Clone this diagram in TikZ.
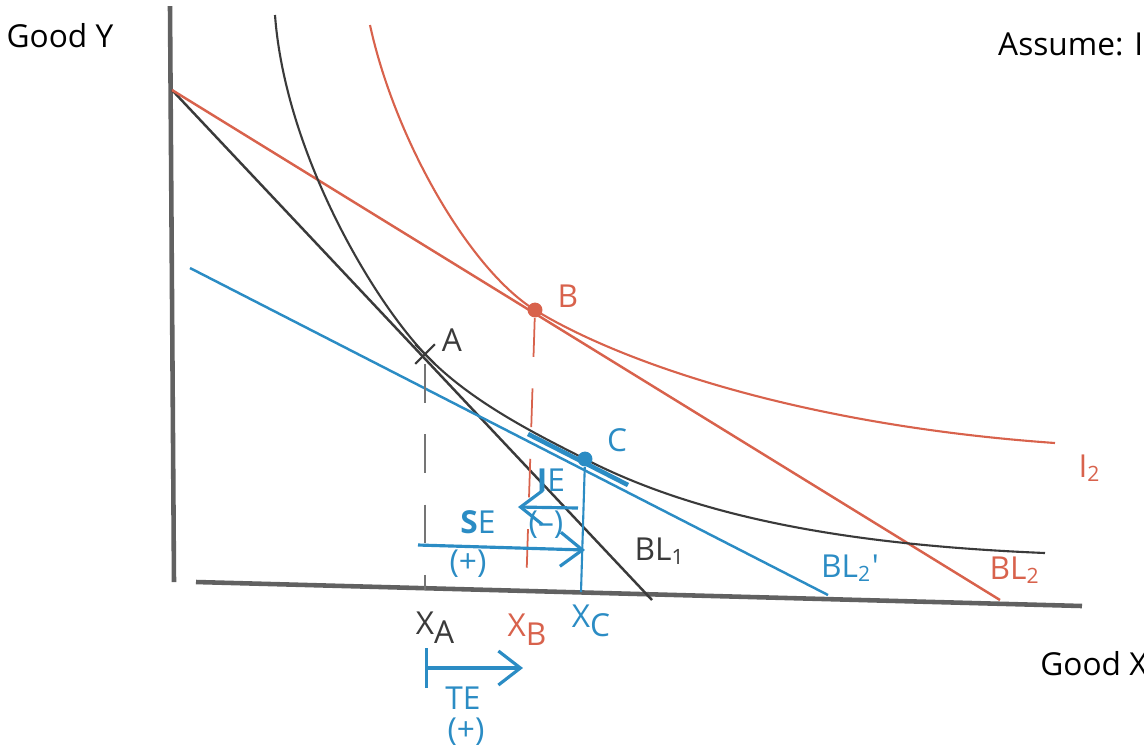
\documentclass[tikz,border=0pt]{standalone}
\usepackage{fontspec}
\setmainfont{Open Sans}
\usetikzlibrary{arrows.meta,shapes.misc}
\definecolor{penred}{HTML}{D8624C}
\definecolor{penblue}{HTML}{2B8CC4}
\definecolor{pengray}{HTML}{3A3A3A}
\newcommand\lowidx[1]{\raisebox{-.55ex}{#1}}

\begin{document}
\begin{tikzpicture}[
  x=0.01cm,y=-0.01cm,
  >={Straight Barb[length=2.2mm,width=3.4mm]},
  axis/.style={pengray!80,line width=1.3pt},
  budget/.style={line width=.7pt},
  indiff/.style={line width=.6pt},
  drop/.style={line width=.5pt,dash pattern=on 11pt off 9pt},
  effect/.style={penblue,line width=.9pt},
  dot/.style={circle,fill,inner sep=1.5pt},
  every node/.style={font=\small,inner sep=1pt}
]
  \useasboundingbox (0,0) rectangle (1144,747);

  % axes
  \coordinate (ytop) at (170,6);
  \coordinate (orig) at (174,582);
  \coordinate (xleft) at (196,582);
  \coordinate (xright) at (1082,606);
  \draw[axis] (ytop) -- (orig);
  \draw[axis] (xleft) -- (xright);
  \node (goody) at (60,36) {Good Y};
  \node (goodx) at (1094,664) {Good X};
  \node[anchor=west] (assume) at (994,44) {Assume: I};

  % budget lines
  \coordinate (yint) at (172,90);
  \coordinate (bl1end) at (652,600);
  \coordinate (bl2end) at (1000,600);
  \coordinate (blpstart) at (190,268);
  \coordinate (blpend) at (828,595);
  \draw[budget,pengray] (yint) -- (bl1end);
  \draw[budget,penred] (yint) -- (bl2end);
  \draw[budget,penblue] (blpstart) -- (blpend);

  % bundles
  \coordinate (A) at (425,354);
  \coordinate (B) at (535,310);
  \coordinate (C) at (585,459);

  % indifference curves
  \coordinate (i1top) at (275,15);
  \coordinate (i1end) at (1045,553);
  \coordinate (i2top) at (370,25);
  \coordinate (i2end) at (1055,443);
  \draw[indiff,pengray] (i1top) .. controls (285,150) and (370,296) .. (A)
    .. controls (470,402) and (540,436) .. (C)
    .. controls (700,518) and (850,545) .. (i1end);
  \draw[indiff,penred] (i2top) .. controls (395,140) and (470,270) .. (B)
    .. controls (620,362) and (800,425) .. (i2end);
  \draw[penblue,line width=1.3pt] (528,434) -- (628,485);

  \node[cross out,draw=pengray,line width=.6pt,minimum size=5pt,inner sep=0pt] (markA) at (A) {};
  \node[dot,penred] (dotB) at (B) {};
  \node[dot,penblue] (dotC) at (C) {};
  \node[pengray] (labA) at (452,340) {A};
  \node[penred] (labB) at (568,296) {B};
  \node[penblue] (labC) at (617,440) {C};

  % labels of lines
  \node[pengray] (labbl1) at (660,551) {BL\textsubscript{1}};
  \node[penblue] (labblp) at (850,568) {BL\textsubscript{2}\textquotesingle};
  \node[penred] (labbl2) at (1015,570) {BL\textsubscript{2}};
  \node[penred] (labi2) at (1090,468) {I\textsubscript{2}};

  % drop lines to the x axis
  \coordinate (xA) at (425,590);
  \coordinate (xB) at (526,592);
  \coordinate (xC) at (581,592);
  \draw[drop,pengray!70] (markA) -- (xA);
  \draw[drop,penred] (dotB) -- (xB);
  \draw[penblue,line width=.6pt] (dotC) -- (xC);
  \node[pengray] (labxa) at (435,628) {X\lowidx{A}};
  \node[penred] (labxb) at (527,630) {X\lowidx{B}};
  \node[penblue] (labxc) at (591,621) {X\lowidx{C}};

  % substitution and income effects
  \coordinate (seS) at (418,545);
  \coordinate (seE) at (585,550);
  \coordinate (ieS) at (578,508);
  \coordinate (ieE) at (518,507);
  \draw[effect,->] (seS) -- (seE);
  \draw[effect,->] (ieS) -- (ieE);
  \node[penblue] (labse) at (478,522) {\textbf{S}E};
  \node[penblue] (labsesign) at (468,564) {(+)};
  \node[penblue] (labie) at (551,480) {\textbf{I}E};
  \node[penblue] (labiesign) at (546,525) {(\textendash)};

  % total effect
  \coordinate (teS) at (425,668);
  \coordinate (teE) at (523,668);
  \draw[effect,{Bar[width=4mm]}->] (teS) -- (teE);
  \node[penblue] (labte) at (463,698) {TE};
  \node[penblue] (labtesign) at (466,732) {(+)};
\end{tikzpicture}
\end{document}
